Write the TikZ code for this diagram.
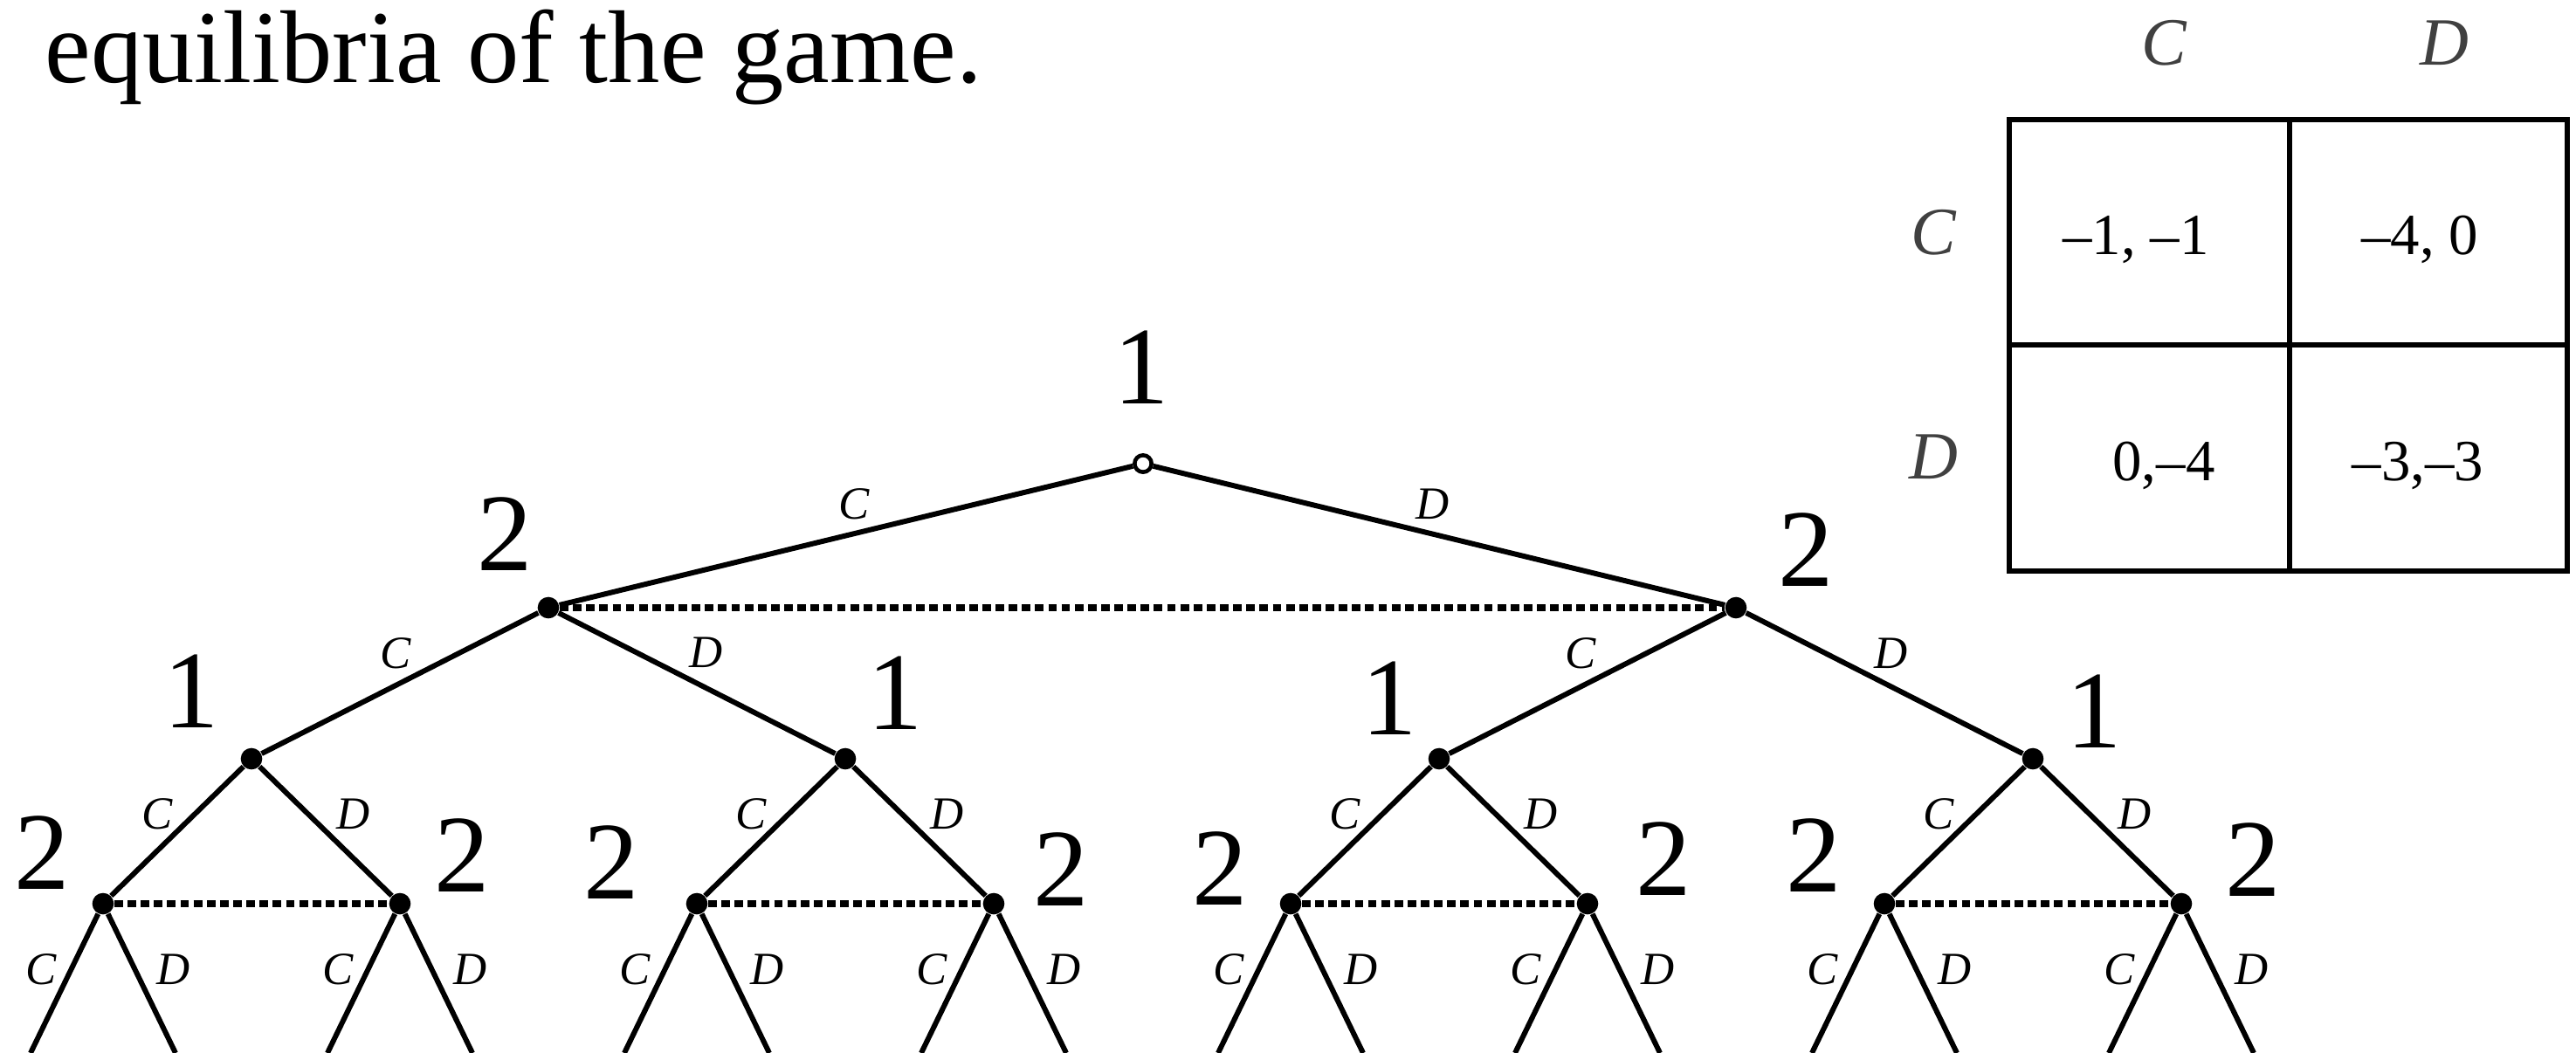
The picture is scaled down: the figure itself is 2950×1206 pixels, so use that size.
\documentclass[tikz,border=0pt]{standalone}
\usepackage{fontspec}
\setmainfont{Liberation Serif}
\begin{document}
\begin{tikzpicture}[x=0.01cm,y=-0.01cm,
  edge/.style={line width=1.7pt},
  infoset/.style={line width=2pt, dash pattern=on 2.8pt off 1.5pt},
  dec/.style={circle, fill=black, inner sep=0pt, minimum size=7pt},
  rootnode/.style={circle, draw=black, fill=white, line width=1.3pt, inner sep=0pt, minimum size=5.5pt},
  plabel/.style={font=\fontsize{36}{40}\selectfont, inner sep=0pt},
  alabel/.style={font=\itshape\fontsize{15}{17}\selectfont, inner sep=0pt, text=black},
  hdr/.style={font=\itshape\fontsize{22}{26}\selectfont, inner sep=0pt, text=black!75},
  cell/.style={font=\fontsize{19}{22}\selectfont, inner sep=0pt, anchor=base},
  tbl/.style={line width=1.5pt}
]
\useasboundingbox (0,0) rectangle (2950,1206);

% title
\node[anchor=base west, inner sep=0pt, font=\fontsize{33.7}{40}\selectfont] (title) at (51,94) {equilibria of the game.};

% payoff table
\draw[tbl] (2301,137) rectangle (2940,654);
\draw[tbl] (2622,137) -- (2622,654);
\draw[tbl] (2301,395) -- (2940,395);
\node[hdr] (colC) at (2478,49) {C};
\node[hdr] (colD) at (2799,49) {D};
\node[hdr] (rowC) at (2214,266) {C};
\node[hdr] (rowD) at (2214,523) {D};
\node[cell] (p11) at (2446,291) {--1, --1};
\node[cell] (p12) at (2771,291) {--4, 0};
\node[cell] (p21) at (2478,550) {0,--4};
\node[cell] (p22) at (2769,550) {--3,--3};

% tree nodes
\node[rootnode] (r) at (1309,531) {};
\node[dec] (a1) at (628,696) {};
\node[dec] (a2) at (1988,696) {};
\node[dec] (b1) at (288,869) {};
\node[dec] (b2) at (968,869) {};
\node[dec] (b3) at (1648,869) {};
\node[dec] (b4) at (2328,869) {};
\foreach \i/\x in {1/118,2/458,3/798,4/1138,5/1478,6/1818,7/2158,8/2498} {
  \node[dec] (c\i) at (\x,1035) {};
  \coordinate (l\i a) at ({\x-83},1206);
  \coordinate (l\i b) at ({\x+83},1206);
  \draw[edge] (c\i) -- (l\i a);
  \draw[edge] (c\i) -- (l\i b);
  \node[alabel] (lc\i) at ({\x-71},1110) {C};
  \node[alabel] (ld\i) at ({\x+81},1110) {D};
}

% edges
\draw[edge] (r) -- (a1);
\draw[edge] (r) -- (a2);
\draw[edge] (a1) -- (b1);
\draw[edge] (a1) -- (b2);
\draw[edge] (a2) -- (b3);
\draw[edge] (a2) -- (b4);
\draw[edge] (b1) -- (c1);
\draw[edge] (b1) -- (c2);
\draw[edge] (b2) -- (c3);
\draw[edge] (b2) -- (c4);
\draw[edge] (b3) -- (c5);
\draw[edge] (b3) -- (c6);
\draw[edge] (b4) -- (c7);
\draw[edge] (b4) -- (c8);

% information sets
\draw[infoset] (a1) -- (a2);
\draw[infoset] (c1) -- (c2);
\draw[infoset] (c3) -- (c4);
\draw[infoset] (c5) -- (c6);
\draw[infoset] (c7) -- (c8);

% action labels
\node[alabel] (rC) at (978,577) {C};
\node[alabel] (rD) at (1641,577) {D};
\node[alabel] (a1C) at (453,748) {C};
\node[alabel] (a1D) at (809,747) {D};
\node[alabel] (a2C) at (1810,748) {C};
\node[alabel] (a2D) at (2166,748) {D};
\foreach \i/\x in {1/288,2/968,3/1648,4/2328} {
  \node[alabel] (bc\i) at ({\x-108},932) {C};
  \node[alabel] (bd\i) at ({\x+117},932) {D};
}

% player labels
\node[plabel] (pr) at (1307,421) {1};
\node[plabel] (pa1) at (578,612) {2};
\node[plabel] (pa2) at (2068,630) {2};
\node[plabel] (pb1) at (219,792) {1};
\node[plabel] (pb2) at (1025,794) {1};
\node[plabel] (pb3) at (1591,800) {1};
\node[plabel] (pb4) at (2398,815) {1};
\node[plabel] (pc1) at (48,977) {2};
\node[plabel] (pc2) at (529,980) {2};
\node[plabel] (pc3) at (700,988) {2};
\node[plabel] (pc4) at (1215,996) {2};
\node[plabel] (pc5) at (1397,995) {2};
\node[plabel] (pc6) at (1905,984) {2};
\node[plabel] (pc7) at (2077,980) {2};
\node[plabel] (pc8) at (2580,985) {2};
\end{tikzpicture}
\end{document}
